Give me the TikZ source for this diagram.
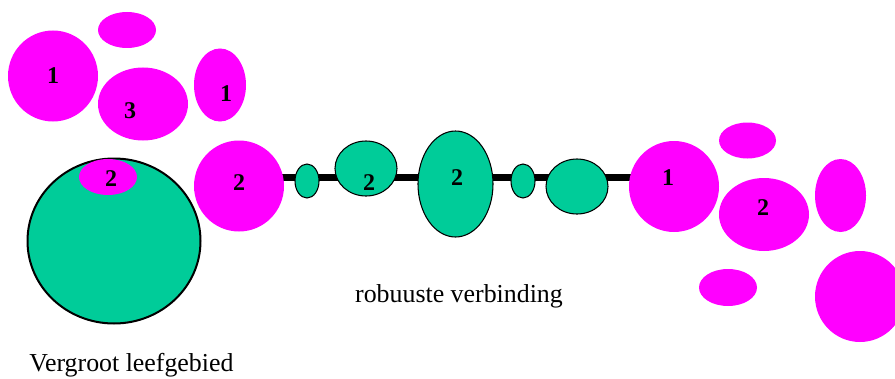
\documentclass[tikz,border=0pt]{standalone}
\usepackage{fontspec}
\setmainfont{Liberation Serif}
\usetikzlibrary{shapes.geometric,backgrounds}
\definecolor{mag}{HTML}{FF00FF}
\definecolor{grn}{HTML}{00CC99}
\tikzset{
  blob/.style n args={2}{ellipse, inner sep=0pt, minimum width=#1*0.75pt, minimum height=#2*0.75pt},
  pink/.style={fill=mag, draw=none},
  green/.style={fill=grn, draw=black, line width=0.8pt},
  num/.style={font=\fontsize{18}{20}\selectfont\bfseries, inner sep=0pt},
  caption/.style={font=\fontsize{19.4}{21}\selectfont, inner sep=0pt},
  link/.style={line width=5.25pt, black},
}
\begin{document}
\begin{tikzpicture}[x=0.75pt, y=-0.75pt]
\useasboundingbox (0,0) rectangle (895,378);
\clip (0,0) rectangle (895,378);
% left group
\node[pink, blob={58}{36}] (lt) at (127,30) {};
\node[pink, blob={90}{91}] (l1) at (53,76) {};
\node[pink, blob={90}{73}] (l3) at (143,104) {};
\node[pink, blob={52}{73}] (l1b) at (220,85) {};
\node[green, line width=1.5pt, blob={173}{165}] (big) at (114,241) {};
\node[pink, blob={58}{36}] (l2s) at (108,177) {};
\node[pink, blob={90}{91}] (m2) at (239,186) {};
\node[num] (tl1) at (53,76) {1};
\node[num] (tl3) at (130,111) {3};
\node[num] (tl1b) at (226,94) {1};
\node[num] (tl2s) at (111,179) {2};
\node[num] (tm2) at (239,183) {2};
% chain
\node[green, blob={24}{34}] (c1) at (307,181) {};
\node[green, blob={62}{55}] (c2) at (366,168.5) {};
\node[green, blob={75}{106}] (c3) at (455.5,184) {};
\node[green, blob={24}{34}] (c4) at (523,181) {};
\node[green, blob={62}{55}] (c5) at (577,186.5) {};
\node[num] (tc2) at (369,183) {2};
\node[num] (tc3) at (457,178) {2};
% right group
\node[pink, blob={57}{36}] (rt) at (747.5,140.5) {};
\node[pink, blob={90}{91}] (r1) at (674,186.5) {};
\node[pink, blob={90}{73}] (r2) at (764,214.5) {};
\node[pink, blob={51}{73}] (rv) at (840.5,195.5) {};
\node[pink, blob={58}{37}] (rs) at (728,287.5) {};
\node[pink, blob={90}{91}] (rb) at (860,296.5) {};
\node[num] (tr1) at (668,178) {1};
\node[num] (tr2) at (763,208) {2};
% connector
\coordinate (lineL) at (270,177);
\coordinate (lineR) at (650,177);
\begin{scope}[on background layer]
\draw[link] (lineL) -- (lineR);
\end{scope}
% captions
\node[caption, anchor=base] (cap1) at (459,302) {robuuste verbinding};
\node[caption, anchor=base west] (cap2) at (29,371) {Vergroot leefgebied};
\end{tikzpicture}
\end{document}
